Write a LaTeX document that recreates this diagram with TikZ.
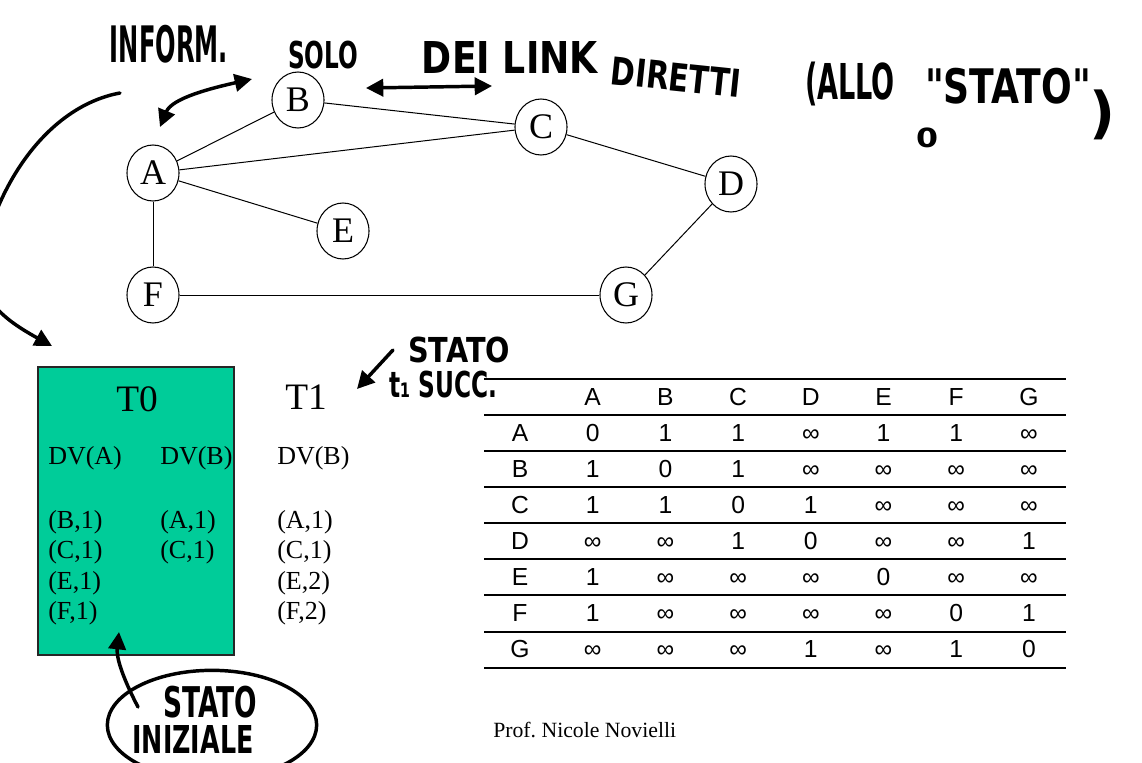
\documentclass[tikz,border=0pt]{standalone}
\usepackage{graphicx}
\usepackage{fontspec}
\setmainfont{Liberation Serif}
\newfontfamily\tabfont{Liberation Sans}
\newfontfamily\handfont{DejaVu Sans}
\usetikzlibrary{shapes.geometric,arrows.meta}
\definecolor{stategreen}{RGB}{0,204,153}
\newdimen\hpx \hpx=0.75pt
% handwritten words: width, height (px), text
\newcommand{\hw}[3]{\resizebox*{#1\hpx}{#2\hpx}{\handfont\bfseries #3}}
\tikzset{
  router/.style={ellipse,draw,line width=0.8pt,minimum width=39pt,minimum height=42pt,inner sep=0pt,font=\fontsize{27}{30}\selectfont},
  link/.style={line width=0.75pt},
  dvtext/.style={anchor=base west,inner sep=0pt,font=\fontsize{19.5}{22}\selectfont},
  cell/.style={anchor=base,inner sep=0pt,font=\tabfont\fontsize{18.5}{20}\selectfont},
  hand/.style={inner sep=0pt},
  handline/.style={line width=2.6pt,line cap=round},
  handarrow/.style={handline,-{Triangle[length=13pt,width=13pt]}},
  handboth/.style={handline,{Triangle[length=13pt,width=13pt]}-{Triangle[length=13pt,width=13pt]}},
}
\begin{document}
\begin{tikzpicture}[x=0.75pt,y=-0.75pt]
\useasboundingbox (0,0) rectangle (1142,763);
% network
\node[router] (A) at (153,173) {A}; \node[router] (B) at (298,100) {B};
\node[router] (C) at (541,127) {C}; \node[router] (D) at (731,184) {D};
\node[router] (E) at (343,231) {E}; \node[router] (F) at (153,295) {F};
\node[router] (G) at (626,295) {G};
\draw[link] (A)--(B); \draw[link] (A)--(C); \draw[link] (A)--(E); \draw[link] (A)--(F);
\draw[link] (B)--(C); \draw[link] (C)--(D); \draw[link] (D)--(G); \draw[link] (F)--(G);
% initial state
\draw[fill=stategreen,draw=black!85,line width=0.8pt] (38,367) rectangle (234,655);
\node[inner sep=0pt,font=\fontsize{28}{30}\selectfont] (tzero) at (137,399) {T0};
\node[inner sep=0pt,font=\fontsize{28}{30}\selectfont] (tone) at (306,397) {T1};
\node[dvtext] (dvA) at (48,464) {DV(A)}; \node[dvtext] (dvB) at (160,464) {DV(B)};
\node[dvtext] (dvBnext) at (277,464) {DV(B)};
\foreach \t [count=\k] in {(B,1),(C,1),(E,1),(F,1)}
  \node[dvtext] (vecA\k) at (48,{528+30.5*(\k-1)}) {\t};
\foreach \t [count=\k] in {(A,1),(C,1)}
  \node[dvtext] (vecB\k) at (160,{528+30.5*(\k-1)}) {\t};
\foreach \t [count=\k] in {(A,1),(C,1),(E,2),(F,2)}
  \node[dvtext] (vecBnext\k) at (277,{528+30.5*(\k-1)}) {\t};
% link-state table
\draw[line width=1.5pt] (484,379)--(1066,379); \draw[line width=1.5pt] (484,668)--(1066,668);
\foreach \y in {415,451,487,523,559,595,632} \draw[line width=1pt] (484,\y)--(1066,\y);
\foreach \c [count=\i] in {A,B,C,D,E,F,G}
  \node[cell] (head\c) at ({520+72.7*\i},405.5) {\c};
\foreach \r/\vals [count=\j] in {A/{0,1,1,∞,1,1,∞},B/{1,0,1,∞,∞,∞,∞},C/{1,1,0,1,∞,∞,∞},D/{∞,∞,1,0,∞,∞,1},E/{1,∞,∞,∞,0,∞,∞},F/{1,∞,∞,∞,∞,0,1},G/{∞,∞,∞,1,∞,1,0}}{
  \node[cell] (row\r) at (520,{441+36.1*(\j-1)}) {\r};
  \foreach \v [count=\i] in \vals
    \node[cell] (cell\r\i) at ({520+72.7*\i},{441+36.1*(\j-1)}) {\v};
}
\node[anchor=base west,inner sep=0pt,font=\fontsize{16.3}{18}\selectfont] (prof) at (493,737) {Prof.\ Nicole Novielli};
% handwritten notes
\node[hand] (noteInform) at (169,44) {\hw{118}{38}{INFORM.}};
\node[hand] (noteSolo) at (323,55) {\hw{70}{28}{SOLO}};
\node[hand] (noteDei) at (510,57) {\hw{176}{32}{DEI LINK}};
\node[hand,rotate=-6] (noteDiretti) at (676,77) {\hw{130}{28}{DIRETTI}};
\node[hand] (noteAllo) at (850,84) {\hw{90}{44}{(ALLO}};
\node[hand] (noteStato) at (1008,86) {\hw{166}{36}{"STATO"}};
\node[hand] (noteClose) at (1102,115) {\hw{26}{50}{)}};
\node[hand] (noteZero) at (927,138) {\hw{22}{20}{0}};
\node[hand] (noteNext) at (459,350) {\hw{102}{26}{STATO}};
\node[hand] (noteSucc) at (443,385) {\hw{108}{27}{t₁ SUCC.}};
\node[ellipse,draw,handline,minimum width=157pt,minimum height=82pt] (initNote) at (212,725) {};
\node[hand] (noteInit) at (210,702) {\hw{94}{32}{STATO}};
\node[hand] (noteIniz) at (193,739) {\hw{121}{28}{INIZIALE}};
\coordinate (abLow) at (160,127); \coordinate (abHigh) at (252,79);
\coordinate (bcLeft) at (366,88); \coordinate (bcRight) at (492,86);
\coordinate (arcStart) at (120,93); \coordinate (arcEnd) at (52,346);
\coordinate (checkTop) at (393,350); \coordinate (checkTip) at (357,389);
\coordinate (initTail) at (138,707); \coordinate (initTip) at (119,632);
\draw[handboth] (abLow) .. controls (172,98) and (212,88) .. (abHigh);
\draw[handboth] (bcLeft)--(bcRight);
\draw[handarrow] (checkTop)--(checkTip);
\draw[handarrow] (initTail) .. controls (126,684) and (116,660) .. (initTip);
\begin{scope}
\clip (0,0) rectangle (1142,763);
\draw[handarrow] (arcStart) .. controls (55,105) and (5,170) .. (-15,245) .. controls (-25,290) and (-10,312) .. (arcEnd);
\end{scope}
\end{tikzpicture}
\end{document}
